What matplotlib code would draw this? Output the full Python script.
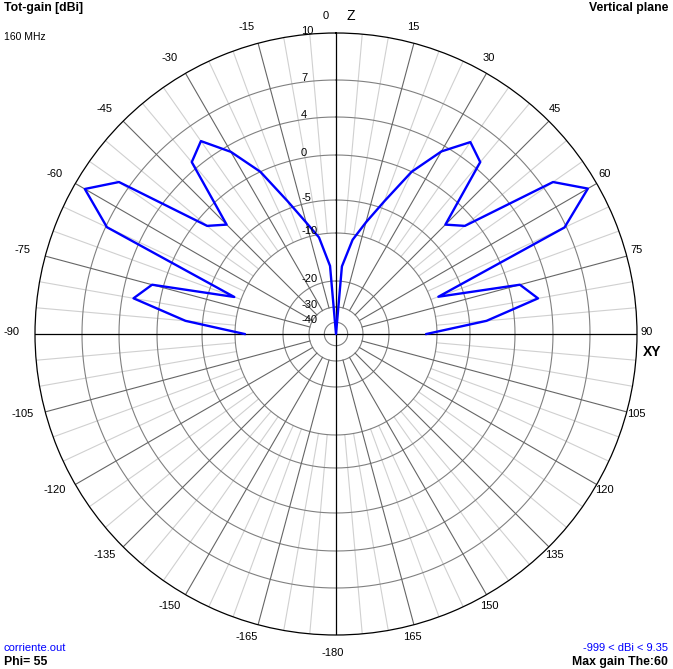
import numpy as np
import matplotlib
matplotlib.use("Agg")
import matplotlib.pyplot as plt
from matplotlib.transforms import offset_copy

plt.rcParams['font.family'] = ['Liberation Sans', 'DejaVu Sans']

# elevation angle (deg from zenith, left side negative) and total gain in dBi
theta_deg = np.arange(-90, 95, 5)
gain_dbi = [-12.0, -3.1, 2.8, 1.2, -8.9, 6.9, 9.3, 7.7, -1.2, -2.7, 4.6, 5.5,
            3.3, 0.0, -4.2, -7.8, -10.6, -16.8,
            -999,
            -16.9, -11.1, -7.8, -4.2, 0.0, 3.35, 5.4, 4.6, -2.7, -1.2, 7.7,
            9.35, 6.85, -8.8, 1.2, 2.75, -3.1, -12.2]

# 4nec2 style log scale: ring dB values and their relative radius
ring_db = [-40, -30, -20, -10, -5, 0, 4, 7, 10]
ring_rel = np.array([11.7, 27, 53, 101, 134, 179, 217, 254, 301]) / 301.0
ring_labels = ["-40", "-30", "-20", "-10", "-5", "0", "4", "7", "10"]


def to_r(db):
    return np.interp(db, [-60] + ring_db, np.concatenate([[0.0], ring_rel]))


fig = plt.figure(figsize=(6.73, 6.69), dpi=100)
ax = fig.add_axes([35 / 673, 34 / 669, 602 / 673, 602 / 669], projection='polar')
ax.set_theta_zero_location('N')
ax.set_theta_direction(-1)
ax.set_ylim(0, 1)
ax.grid(False)
ax.set_xticks([])
ax.set_yticks([])
ax.spines['polar'].set_color('black')
ax.spines['polar'].set_linewidth(0.9)

# rings
th = np.linspace(0, 2 * np.pi, 721)
for db in ring_db[:-1]:
    ax.plot(th, np.full_like(th, to_r(db)), color='#808080', lw=0.8, zorder=2)

# radial lines
for a in range(0, 360, 5):
    t = np.radians(a)
    if a % 90 == 0:
        ax.plot([t, t], [0, 1], color='black', lw=0.9, zorder=3)
    elif a % 15 == 0:
        ax.plot([t, t], [to_r(-30), 1], color='#666666', lw=0.8, zorder=2)
    else:
        ax.plot([t, t], [to_r(-10), 1], color='#d0d0d0', lw=0.8, zorder=1)

# pattern
ax.plot(np.radians(theta_deg), to_r(np.array(gain_dbi)), color='#0000ff', lw=1.7, zorder=5)

# ring labels
for db, lab in zip(ring_db, ring_labels):
    tr = offset_copy(ax.transData, fig=fig, x=-35, y=2, units='dots')
    ax.text(0, to_r(db), lab, transform=tr, ha='left', va='center', fontsize=8, zorder=6)

# angle labels
for a in range(-165, 181, 15):
    dy = 2
    if a == 0:
        lab, dx = "0", -10
    elif a == 180:
        lab, dx, dy = "-180", -3, -3
    else:
        lab, dx = str(a), (-5 if a > 0 else -8)
    tr = offset_copy(ax.transData, fig=fig, x=dx, y=dy, units='dots')
    ax.text(np.radians(a), 316 / 301, lab, transform=tr, ha='center', va='center',
            fontsize=8, clip_on=False)

ax.text(0, 316 / 301, "Z", transform=offset_copy(ax.transData, fig=fig, x=15, y=2, units='dots'),
        ha='center', va='center', fontsize=10, clip_on=False)
ax.text(np.radians(90), 1.0, "XY", transform=offset_copy(ax.transData, fig=fig, x=15, y=-18, units='dots'),
        ha='center', va='center', fontsize=10, fontweight='bold', clip_on=False)

# corner texts
fig.text(4 / 673, 1 - 8 / 669, "Tot-gain [dBi]", ha='left', va='center', fontsize=8.8, fontweight='bold')
fig.text(4 / 673, 1 - 37 / 669, "160 MHz", ha='left', va='center', fontsize=7.5)
fig.text(668 / 673, 1 - 8 / 669, "Vertical plane", ha='right', va='center', fontsize=8.8, fontweight='bold')
fig.text(4 / 673, 1 - 648 / 669, "corriente.out", ha='left', va='center', fontsize=8, color='#0000ff')
fig.text(4 / 673, 1 - 662 / 669, "Phi= 55", ha='left', va='center', fontsize=8.8, fontweight='bold')
fig.text(668 / 673, 1 - 648 / 669, "-999 < dBi < 9.35", ha='right', va='center', fontsize=8, color='#0000ff')
fig.text(668 / 673, 1 - 662 / 669, "Max gain The:60", ha='right', va='center', fontsize=8.8, fontweight='bold')

fig.savefig("out.png", dpi=100)
